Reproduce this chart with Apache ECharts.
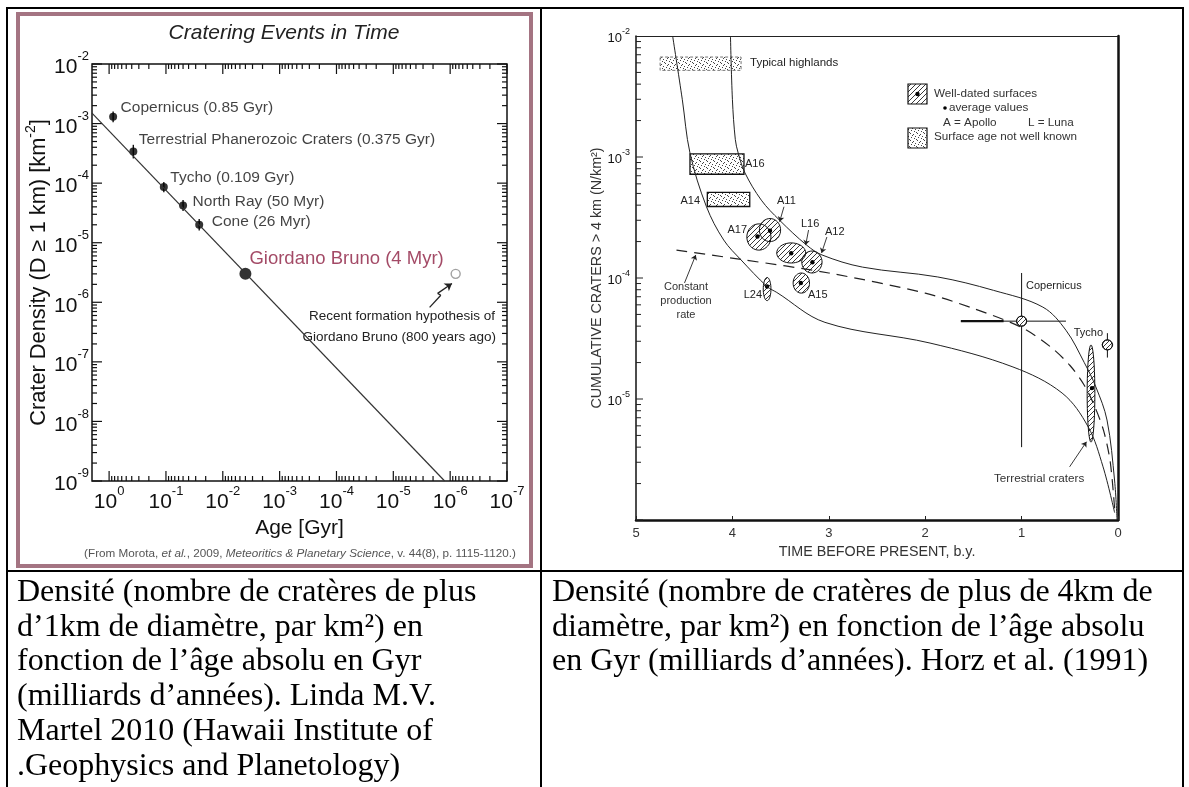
<!DOCTYPE html>
<html><head><meta charset="utf-8">
<script src="https://cdn.jsdelivr.net/npm/echarts@6/dist/echarts.min.js"></script>
<style>html,body{margin:0;padding:0;background:#fff;}#c{width:1189px;height:787px;}</style>
</head><body><div id="c"></div>
<script>
// ===== Left chart data (Morota et al., 2009) =====
const craterNames = ['Copernicus (0.85 Gyr)', 'Terrestrial Phanerozoic Craters (0.375 Gyr)', 'Tycho (0.109 Gyr)', 'North Ray (50 Myr)', 'Cone (26 Myr)'];
const craterAges = [0.85, 0.375, 0.109, 0.05, 0.026];
const craterDensity = [1.3e-3, 3.4e-4, 8.6e-5, 4.2e-5, 2.0e-5];
const densityLow = [1.05e-3, 2.6e-4, 7.0e-5, 3.4e-5, 1.6e-5];
const densityHigh = [1.6e-3, 4.4e-4, 1.05e-4, 5.2e-5, 2.5e-5];
const gbName = 'Giordano Bruno (4 Myr)';
const gbAge = [0.004];
const gbDensity = [3.0e-6];
const recentAge = [8e-7];
const recentDensity = [3.0e-6];
const fitAges = [2, 1.25e-6];
const fitDensity = [1.5e-3, 1e-9];
const arrowAges = [2.3e-6, 1.46e-6, 1.66e-6, 9.3e-7];
const arrowDensity = [8.2e-7, 1.31e-6, 1.41e-6, 2.07e-6];
const leftXExponents = [0, -1, -2, -3, -4, -5, -6, -7];
const leftYExponents = [-2, -3, -4, -5, -6, -7, -8, -9];

// ===== Right chart data (Hörz et al., 1991) =====
const timeTicks = [5, 4, 3, 2, 1, 0];
const rightYExponents = [-2, -3, -4, -5];
const upperT = [4.02, 4.00, 3.97, 3.94, 3.87, 3.70, 3.51, 3.23, 3.07, 2.65, 1.87, 1.29, 0.78, 0.54, 0.35, 0.23, 0.114, 0.035, 0.01];
const upperN = [1e-2, 3e-3, 1.4e-3, 1.08e-3, 7.4e-4, 4.4e-4, 3.0e-4, 1.87e-4, 1.55e-4, 1.23e-4, 1.02e-4, 7.9e-5, 5.75e-5, 3.7e-5, 2.0e-5, 1.26e-5, 6.7e-6, 2.1e-6, 1.0e-6];
const lowerT = [4.62, 4.52, 4.44, 4.27, 4.09, 3.91, 3.64, 3.54, 3.04, 1.95, 1.09, 0.58, 0.31, 0.155, 0.035];
const lowerN = [1e-2, 3e-3, 1.08e-3, 3.9e-4, 2.06e-4, 1.41e-4, 8.5e-5, 7.6e-5, 4.3e-5, 2.9e-5, 1.84e-5, 1.12e-5, 5.9e-6, 2.75e-6, 1.15e-6];
const constT = [4.58, 3.9, 3.0, 2.0, 1.5, 1.0, 0.7, 0.5, 0.35, 0.25, 0.15, 0.08, 0.03];
const constN = [1.7e-4, 1.42e-4, 1.1e-4, 7.5e-5, 5.6e-5, 3.9e-5, 2.7e-5, 1.9e-5, 1.3e-5, 9e-6, 5.5e-6, 3e-6, 1.1e-6];
const boxNames = ['Typical highlands', 'A16', 'A14'];
const boxTmin = [3.91, 3.88, 3.82];
const boxTmax = [4.75, 4.44, 4.26];
const boxNmin = [5.2e-3, 7.2e-4, 3.9e-4];
const boxNmax = [6.7e-3, 1.06e-3, 5.1e-4];
const blobNames = ['A17', 'A11', 'L16', 'A12', 'A15', 'L24', 'Terrestrial craters'];
const blobTmin = [3.60, 3.50, 3.24, 3.07, 3.20, 3.60, 0.24];
const blobTmax = [3.85, 3.72, 3.54, 3.28, 3.37, 3.68, 0.32];
const blobNmin = [1.7e-4, 2.0e-4, 1.33e-4, 1.1e-4, 7.5e-5, 6.5e-5, 4.4e-6];
const blobNmax = [2.8e-4, 3.1e-4, 1.95e-4, 1.67e-4, 1.1e-4, 1.01e-4, 2.8e-5];
const blobTavg = [3.74, 3.61, 3.39, 3.17, 3.29, 3.64, 0.27];
const blobNavg = [2.2e-4, 2.46e-4, 1.6e-4, 1.35e-4, 9.1e-5, 8.5e-5, 1.23e-5];
const craterMarkNames = ['Copernicus', 'Tycho'];
const markT = [1.0, 0.11];
const markN = [4.4e-5, 2.8e-5];
const markTlo = [0.54, 0.05];
const markThi = [1.63, 0.17];
const markNlo = [4.0e-6, 2.2e-5];
const markNhi = [1.1e-4, 3.5e-5];
// annotation arrows (from -> to)
const arrowFromT = [3.465, 3.21, 3.02, 4.497, 0.502];
const arrowFromN = [3.88e-4, 2.49e-4, 2.18e-4, 9.1e-5, 2.75e-6];
const arrowToT = [3.51, 3.24, 3.075, 4.38, 0.327];
const arrowToN = [2.92e-4, 1.87e-4, 1.61e-4, 1.55e-4, 4.43e-6];

const F = '"Liberation Sans", Arial, sans-serif';
const SERIF = '"Liberation Serif", "Times New Roman", serif';

function makeHatch() {
  const c = document.createElement('canvas'); c.width = 5; c.height = 5;
  const g = c.getContext('2d'); g.strokeStyle = '#222'; g.lineWidth = 0.9;
  g.beginPath(); g.moveTo(0, 5); g.lineTo(5, 0); g.moveTo(-1, 1); g.lineTo(1, -1); g.moveTo(4, 6); g.lineTo(6, 4); g.stroke();
  return c;
}
function makeStipple() {
  const c = document.createElement('canvas'); c.width = 7; c.height = 7;
  const g = c.getContext('2d'); g.fillStyle = '#444';
  [[0,0],[3,1],[5,3],[1,4],[4,5],[6,6],[2,2]].forEach(p => g.fillRect(p[0], p[1], 1, 1));
  return c;
}
const hatchFill = { image: makeHatch(), repeat: 'repeat' };
const stippleFill = { image: makeStipple(), repeat: 'repeat' };

function isPow(v, list) {
  const l = Math.log10(v); const e = Math.round(l);
  return Math.abs(l - e) < 1e-6 && list.indexOf(e) >= 0 ? e : null;
}

// tick positions built from the exponent lists
const lxTicks = [];
for (let e = -7; e <= 0; e++) for (let m = 1; m <= 9; m++) { const v = m * Math.pow(10, e); if (v < 1.99) lxTicks.push([v, 1e-9, m === 1 ? 1 : 0]); }
const lyTicks = [];
for (let e = -9; e <= -3; e++) for (let m = 1; m <= 9; m++) lyTicks.push([2, m * Math.pow(10, e), m === 1 ? 1 : 0]);
lyTicks.push([2, 1e-2, 1]);
const ryTicks = [];
for (let e = -6; e <= -3; e++) for (let m = 1; m <= 9; m++) ryTicks.push([5, m * Math.pow(10, e), m === 1 ? 1 : 0]);

const supRich = (b, s, lh) => ({
  b: { fontSize: b, fontFamily: F, color: '#111', lineHeight: lh, verticalAlign: 'bottom' },
  s: { fontSize: s, fontFamily: F, color: '#111', lineHeight: s, verticalAlign: 'top' }
});

const labelNudge = [[3.5, -9], [1.5, -12], [2.5, -9], [5.5, -4], [8.5, -3]];

const option = {
  animation: false,
  backgroundColor: '#fff',
  grid: [
    { left: 92, top: 64, width: 415, height: 417, show: true, borderColor: '#111', borderWidth: 1.5, backgroundColor: 'transparent' },
    { left: 636, top: 36, width: 482, height: 484, show: false }
  ],
  xAxis: [
    { type: 'log', gridIndex: 0, min: 1e-7, max: 2, inverse: true, interval: 1,
      axisLine: { show: false }, axisTick: { show: false }, splitLine: { show: false },
      axisLabel: { margin: 4, formatter: v => { const e = isPow(v, leftXExponents); return e === null ? '' : '{b|10}{s|' + e + '}'; }, rich: supRich(21, 13, 28) },
      name: 'Age [Gyr]', nameLocation: 'middle', nameGap: 29, nameTextStyle: { fontSize: 21, fontFamily: F, color: '#111' } },
    { type: 'value', gridIndex: 1, min: 0, max: 5, interval: 1, inverse: true,
      axisLine: { show: true, onZero: false, lineStyle: { color: '#111', width: 2.5 } },
      axisTick: { show: true, inside: true, length: 4, lineStyle: { color: '#222' } },
      splitLine: { show: false },
      axisLabel: { margin: 7, fontSize: 13, fontFamily: F, color: '#333' },
      name: 'TIME BEFORE PRESENT, b.y.', nameLocation: 'middle', nameGap: 21, nameTextStyle: { fontSize: 14.3, fontFamily: F, color: '#333' } },
    { type: 'value', gridIndex: 1, min: 0, max: 5, inverse: true, position: 'top',
      axisLine: { show: true, onZero: false, lineStyle: { color: '#222', width: 1 } }, axisTick: { show: false }, axisLabel: { show: false }, splitLine: { show: false } }
  ],
  yAxis: [
    { type: 'log', gridIndex: 0, min: 1e-9, max: 1e-2, interval: 1,
      axisLine: { show: false }, axisTick: { show: false }, splitLine: { show: false },
      axisLabel: { margin: 3, formatter: v => { const e = isPow(v, leftYExponents); return e === null ? '' : '{b|10}{s|' + e + '}'; }, rich: supRich(21, 13, 28) },
      name: '{n|Crater Density (D ≥ 1 km) [km}{s|-2}{n|]}', nameLocation: 'middle', nameGap: 40,
      nameTextStyle: { rich: { n: { fontSize: 21.8, fontFamily: F, color: '#111', lineHeight: 26, verticalAlign: 'bottom' }, s: { fontSize: 14, fontFamily: F, color: '#111', lineHeight: 14, verticalAlign: 'top' } } } },
    { type: 'log', gridIndex: 1, min: 1e-6, max: 1e-2, interval: 1,
      axisLine: { show: true, onZero: false, lineStyle: { color: '#111', width: 1.5 } }, axisTick: { show: false }, splitLine: { show: false },
      axisLabel: { margin: 6, formatter: v => { const e = isPow(v, rightYExponents); return e === null ? '' : '{b|10}{s|' + e + '}'; }, rich: supRich(13, 9, 17) },
      name: 'CUMULATIVE CRATERS > 4 km (N/km²)', nameLocation: 'middle', nameGap: 30,
      nameTextStyle: { fontSize: 14.3, fontFamily: F, color: '#333' } },
    { type: 'log', gridIndex: 1, min: 1e-6, max: 1e-2, position: 'right',
      axisLine: { show: true, onZero: false, lineStyle: { color: '#111', width: 2.5 } }, axisTick: { show: false }, axisLabel: { show: false }, splitLine: { show: false } }
  ],
  series: [
    // ---------- left chart ----------
    { type: 'line', xAxisIndex: 0, yAxisIndex: 0, data: fitAges.map((a, i) => [a, fitDensity[i]]), symbol: 'none',
      lineStyle: { color: '#333', width: 1.2 }, silent: true },
    { type: 'custom', xAxisIndex: 0, yAxisIndex: 0, silent: true,
      data: craterAges.map((a, i) => [a, densityLow[i], densityHigh[i]]), encode: { x: 0, y: [1, 2] },
      renderItem: (p, api) => { const lo = api.coord([api.value(0), api.value(1)]); const hi = api.coord([api.value(0), api.value(2)]);
        return { type: 'line', shape: { x1: lo[0], y1: lo[1], x2: hi[0], y2: hi[1] }, style: { stroke: '#111', lineWidth: 1.4 } }; } },
    { type: 'scatter', xAxisIndex: 0, yAxisIndex: 0, symbolSize: 8, itemStyle: { color: '#000' }, silent: true,
      data: craterAges.map((a, i) => ({ value: [a, craterDensity[i]], label: { offset: labelNudge[i] } })),
      label: { show: true, position: 'right', distance: 0, formatter: p => craterNames[p.dataIndex], fontSize: 15.5, fontFamily: F, color: '#111' } },
    { type: 'scatter', xAxisIndex: 0, yAxisIndex: 0, symbolSize: 12, itemStyle: { color: '#000' }, silent: true,
      data: gbAge.map((a, i) => [a, gbDensity[i]]),
      label: { show: true, position: 'right', distance: -2, offset: [0, -15], formatter: gbName, fontSize: 18.5, fontFamily: F, color: '#8c1d40' } },
    { type: 'scatter', xAxisIndex: 0, yAxisIndex: 0, symbol: 'circle', symbolSize: 9, silent: true,
      itemStyle: { color: '#fff', borderColor: '#8a8a8a', borderWidth: 1.4 },
      data: recentAge.map((a, i) => [a, recentDensity[i]]),
      markLine: { silent: true, animation: false, label: { show: false }, lineStyle: { color: '#222', width: 1.3, type: 'solid' }, symbolSize: [0, 7],
        data: [
          [{ coord: [arrowAges[0], arrowDensity[0]], symbol: 'none' }, { coord: [arrowAges[1], arrowDensity[1]], symbol: 'none' }],
          [{ coord: [arrowAges[1], arrowDensity[1]], symbol: 'none' }, { coord: [arrowAges[2], arrowDensity[2]], symbol: 'none' }],
          [{ coord: [arrowAges[2], arrowDensity[2]], symbol: 'none' }, { coord: [arrowAges[3], arrowDensity[3]], symbol: 'arrow', symbolSize: 7 }]
        ] } },
    { type: 'custom', xAxisIndex: 0, yAxisIndex: 0, silent: true, data: lxTicks, encode: { x: 0, y: 1 },
      renderItem: (p, api) => { const v = api.value(0), L = api.value(2) ? 10 : 5; const b = api.coord([v, 1e-9]), t = api.coord([v, 1e-2]);
        return { type: 'group', children: [
          { type: 'line', shape: { x1: b[0], y1: b[1], x2: b[0], y2: b[1] - L }, style: { stroke: '#111', lineWidth: 1.2 } },
          { type: 'line', shape: { x1: t[0], y1: t[1], x2: t[0], y2: t[1] + L }, style: { stroke: '#111', lineWidth: 1.2 } } ] }; } },
    { type: 'custom', xAxisIndex: 0, yAxisIndex: 0, silent: true, data: lyTicks, encode: { x: 0, y: 1 },
      renderItem: (p, api) => { const v = api.value(1), L = api.value(2) ? 10 : 5; const l = api.coord([2, v]), r = api.coord([1e-7, v]);
        return { type: 'group', children: [
          { type: 'line', shape: { x1: l[0], y1: l[1], x2: l[0] + L, y2: l[1] }, style: { stroke: '#111', lineWidth: 1.2 } },
          { type: 'line', shape: { x1: r[0], y1: r[1], x2: r[0] - L, y2: r[1] }, style: { stroke: '#111', lineWidth: 1.2 } } ] }; } },

    // ---------- right chart ----------
    { type: 'line', xAxisIndex: 1, yAxisIndex: 1, smooth: 0.35, symbol: 'none', silent: true,
      data: upperT.map((t, i) => [t, upperN[i]]), lineStyle: { color: '#222', width: 1 },
      markLine: { silent: true, animation: false, label: { show: false }, lineStyle: { color: '#222', width: 0.9, type: 'solid' },
        symbol: ['none', 'arrow'], symbolSize: 5,
        data: arrowFromT.map((t, i) => [{ coord: [t, arrowFromN[i]] }, { coord: [arrowToT[i], arrowToN[i]] }]) } },
    { type: 'line', xAxisIndex: 1, yAxisIndex: 1, smooth: 0.35, symbol: 'none', silent: true,
      data: lowerT.map((t, i) => [t, lowerN[i]]), lineStyle: { color: '#222', width: 1 } },
    { type: 'line', xAxisIndex: 1, yAxisIndex: 1, smooth: 0.3, symbol: 'none', silent: true,
      data: constT.map((t, i) => [t, constN[i]]), lineStyle: { color: '#222', width: 1.2, type: [11, 7] } },
    { type: 'custom', xAxisIndex: 1, yAxisIndex: 1, silent: true,
      data: boxNames.map((n, i) => [boxTmin[i], boxTmax[i], boxNmin[i], boxNmax[i]]), encode: { x: [0, 1], y: [2, 3] },
      renderItem: (p, api) => { const a = api.coord([api.value(1), api.value(3)]); const b = api.coord([api.value(0), api.value(2)]);
        const first = p.dataIndex === 0;
        return { type: 'rect', shape: { x: a[0], y: a[1], width: b[0] - a[0], height: b[1] - a[1] },
          style: { fill: stippleFill, stroke: first ? '#777' : '#111', lineWidth: first ? 1 : 1.3, lineDash: first ? [3, 2] : null } }; } },
    { type: 'custom', xAxisIndex: 1, yAxisIndex: 1, silent: true,
      data: blobNames.map((n, i) => [blobTmin[i], blobTmax[i], blobNmin[i], blobNmax[i], blobTavg[i], blobNavg[i]]), encode: { x: [0, 1, 4], y: [2, 3, 5] },
      renderItem: (p, api) => { const a = api.coord([api.value(0), api.value(3)]); const b = api.coord([api.value(1), api.value(2)]);
        const cx = (a[0] + b[0]) / 2, cy = (a[1] + b[1]) / 2, rx = Math.abs(a[0] - b[0]) / 2, ry = Math.abs(a[1] - b[1]) / 2;
        const pts = []; for (let k = 0; k < 40; k++) { const th = k / 40 * Math.PI * 2; pts.push([cx + rx * Math.cos(th), cy + ry * Math.sin(th)]); }
        const d = api.coord([api.value(4), api.value(5)]);
        return { type: 'group', children: [
          { type: 'polygon', shape: { points: pts }, style: { fill: hatchFill, stroke: '#111', lineWidth: 1 } },
          { type: 'circle', shape: { cx: d[0], cy: d[1], r: 2.2 }, style: { fill: '#000' } } ] }; } },
    { type: 'custom', xAxisIndex: 1, yAxisIndex: 1, silent: true,
      data: craterMarkNames.map((n, i) => [markT[i], markN[i], markTlo[i], markThi[i], markNlo[i], markNhi[i]]), encode: { x: [0, 2, 3], y: [1, 4, 5] },
      renderItem: (p, api) => { const c = api.coord([api.value(0), api.value(1)]);
        const l = api.coord([api.value(3), api.value(1)]), r = api.coord([api.value(2), api.value(1)]);
        const t = api.coord([api.value(0), api.value(5)]), b = api.coord([api.value(0), api.value(4)]);
        const ch = [
          { type: 'line', shape: { x1: l[0], y1: l[1], x2: r[0], y2: r[1] }, style: { stroke: '#111', lineWidth: 1 } },
          { type: 'line', shape: { x1: t[0], y1: t[1], x2: b[0], y2: b[1] }, style: { stroke: '#111', lineWidth: 1 } },
          { type: 'circle', shape: { cx: c[0], cy: c[1], r: 5 }, style: { fill: '#fff', stroke: '#111', lineWidth: 1 } },
          { type: 'circle', shape: { cx: c[0], cy: c[1], r: 5 }, style: { fill: hatchFill, stroke: '#111', lineWidth: 1 } } ];
        if (p.dataIndex === 0) ch.push({ type: 'line', shape: { x1: l[0], y1: l[1], x2: c[0] - 18, y2: c[1] }, style: { stroke: '#111', lineWidth: 2.4 } });
        return { type: 'group', children: ch }; } },
    { type: 'custom', xAxisIndex: 1, yAxisIndex: 1, silent: true, data: ryTicks, encode: { x: 0, y: 1 },
      renderItem: (p, api) => { const l = api.coord([5, api.value(1)]); const L = api.value(2) ? 7 : 5;
        return { type: 'line', shape: { x1: l[0], y1: l[1], x2: l[0] + L, y2: l[1] }, style: { stroke: '#222', lineWidth: 1 } }; } }
  ],
  graphic: [
    // table
    { type: 'line', shape: { x1: 6, y1: 8, x2: 1184, y2: 8 }, style: { stroke: '#000', lineWidth: 2 } },
    { type: 'line', shape: { x1: 7, y1: 8, x2: 7, y2: 790 }, style: { stroke: '#000', lineWidth: 2 } },
    { type: 'line', shape: { x1: 1183, y1: 8, x2: 1183, y2: 790 }, style: { stroke: '#000', lineWidth: 2 } },
    { type: 'line', shape: { x1: 541, y1: 8, x2: 541, y2: 790 }, style: { stroke: '#000', lineWidth: 2 } },
    { type: 'line', shape: { x1: 6, y1: 571, x2: 1184, y2: 571 }, style: { stroke: '#000', lineWidth: 2 } },
    // left frame
    { type: 'rect', shape: { x: 18, y: 14, width: 513, height: 552 }, style: { fill: null, stroke: '#a47482', lineWidth: 4 } },
    { type: 'text', style: { text: 'Cratering Events in Time', x: 284, y: 33, align: 'center', verticalAlign: 'middle', fontSize: 21, fontStyle: 'italic', fontFamily: F, fill: '#222' } },
    { type: 'text', style: { x: 300, y: 554, align: 'center', verticalAlign: 'middle', fill: '#555',
        text: '{r|(From Morota, }{i|et al.}{r|, 2009, }{i|Meteoritics & Planetary Science}{r|, v. 44(8), p. 1115-1120.)}',
        rich: { r: { fontSize: 11.7, fontFamily: F, fill: '#555' }, i: { fontSize: 11.7, fontFamily: F, fontStyle: 'italic', fill: '#555' } } } },
    { type: 'text', style: { text: 'Recent formation hypothesis of', x: 495, y: 316, align: 'right', verticalAlign: 'middle', fontSize: 13.5, fontFamily: F, fill: '#222' } },
    { type: 'text', style: { text: 'Giordano Bruno (800 years ago)', x: 496, y: 337, align: 'right', verticalAlign: 'middle', fontSize: 13.5, fontFamily: F, fill: '#222' } },
    // right chart annotations
    { type: 'text', style: { text: 'Typical highlands', x: 750, y: 63, verticalAlign: 'middle', fontSize: 11.5, fontFamily: F, fill: '#222' } },
    { type: 'rect', shape: { x: 908, y: 84, width: 19, height: 20 }, style: { fill: hatchFill, stroke: '#111', lineWidth: 1.2 } },
    { type: 'circle', shape: { cx: 917.5, cy: 94, r: 2.2 }, style: { fill: '#000' } },
    { type: 'rect', shape: { x: 908, y: 128, width: 19, height: 20 }, style: { fill: stippleFill, stroke: '#111', lineWidth: 1.2 } },
    { type: 'text', style: { text: 'Well-dated surfaces', x: 934, y: 94, verticalAlign: 'middle', fontSize: 11.7, fontFamily: F, fill: '#333' } },
    { type: 'circle', shape: { cx: 945, cy: 108, r: 1.8 }, style: { fill: '#000' } },
    { type: 'text', style: { text: 'average values', x: 949, y: 108, verticalAlign: 'middle', fontSize: 11.7, fontFamily: F, fill: '#333' } },
    { type: 'text', style: { text: 'A = Apollo', x: 943, y: 123, verticalAlign: 'middle', fontSize: 11.7, fontFamily: F, fill: '#333' } },
    { type: 'text', style: { text: 'L = Luna', x: 1028, y: 123, verticalAlign: 'middle', fontSize: 11.7, fontFamily: F, fill: '#333' } },
    { type: 'text', style: { text: 'Surface age not well known', x: 934, y: 137, verticalAlign: 'middle', fontSize: 11.7, fontFamily: F, fill: '#333' } },
    { type: 'text', style: { text: 'A16', x: 745, y: 164, verticalAlign: 'middle', fontSize: 11, fontFamily: F, fill: '#222' } },
    { type: 'text', style: { text: 'A14', x: 700, y: 201, align: 'right', verticalAlign: 'middle', fontSize: 11, fontFamily: F, fill: '#222' } },
    { type: 'text', style: { text: 'A17', x: 747, y: 230, align: 'right', verticalAlign: 'middle', fontSize: 11, fontFamily: F, fill: '#222' } },
    { type: 'text', style: { text: 'A11', x: 777, y: 201, verticalAlign: 'middle', fontSize: 11, fontFamily: F, fill: '#222' } },
    { type: 'text', style: { text: 'L16', x: 801, y: 224, verticalAlign: 'middle', fontSize: 11, fontFamily: F, fill: '#222' } },
    { type: 'text', style: { text: 'A12', x: 825, y: 232, verticalAlign: 'middle', fontSize: 11, fontFamily: F, fill: '#222' } },
    { type: 'text', style: { text: 'A15', x: 808, y: 295, verticalAlign: 'middle', fontSize: 11, fontFamily: F, fill: '#222' } },
    { type: 'text', style: { text: 'L24', x: 762, y: 295, align: 'right', verticalAlign: 'middle', fontSize: 11, fontFamily: F, fill: '#222' } },
    { type: 'text', style: { text: 'Constant\nproduction\nrate', x: 686, y: 301, align: 'center', verticalAlign: 'middle', lineHeight: 14, fontSize: 11, fontFamily: F, fill: '#333' } },
    { type: 'text', style: { text: 'Copernicus', x: 1026, y: 286, verticalAlign: 'middle', fontSize: 11, fontFamily: F, fill: '#222' } },
    { type: 'text', style: { text: 'Tycho', x: 1103, y: 333, align: 'right', verticalAlign: 'middle', fontSize: 11, fontFamily: F, fill: '#222' } },
    { type: 'text', style: { text: 'Terrestrial craters', x: 994, y: 479, verticalAlign: 'middle', fontSize: 11.7, fontFamily: F, fill: '#333' } },
    // captions
    { type: 'text', style: { text: 'Densité (nombre de cratères de plus', x: 17, y: 593, verticalAlign: 'middle', fontSize: 32, fontFamily: SERIF, fill: '#000' } },
    { type: 'text', style: { text: 'd’1km de diamètre, par km²) en', x: 17, y: 628, verticalAlign: 'middle', fontSize: 32, fontFamily: SERIF, fill: '#000' } },
    { type: 'text', style: { text: 'fonction de l’âge absolu en Gyr', x: 17, y: 662, verticalAlign: 'middle', fontSize: 32, fontFamily: SERIF, fill: '#000' } },
    { type: 'text', style: { text: '(milliards d’années). Linda M.V.', x: 17, y: 697, verticalAlign: 'middle', fontSize: 32, fontFamily: SERIF, fill: '#000' } },
    { type: 'text', style: { text: 'Martel 2010 (Hawaii Institute of', x: 17, y: 732, verticalAlign: 'middle', fontSize: 32, fontFamily: SERIF, fill: '#000' } },
    { type: 'text', style: { text: '.Geophysics and Planetology)', x: 17, y: 767, verticalAlign: 'middle', fontSize: 32, fontFamily: SERIF, fill: '#000' } },
    { type: 'text', style: { text: 'Densité (nombre de cratères de plus de 4km de', x: 552, y: 593, verticalAlign: 'middle', fontSize: 32, fontFamily: SERIF, fill: '#000' } },
    { type: 'text', style: { text: 'diamètre, par km²) en fonction de l’âge absolu', x: 552, y: 628, verticalAlign: 'middle', fontSize: 32, fontFamily: SERIF, fill: '#000' } },
    { type: 'text', style: { text: 'en Gyr (milliards d’années). Horz et al. (1991)', x: 552, y: 662, verticalAlign: 'middle', fontSize: 32, fontFamily: SERIF, fill: '#000' } }
  ]
};
const chart = echarts.init(document.getElementById('c'));
chart.setOption(option);
</script></body></html>
